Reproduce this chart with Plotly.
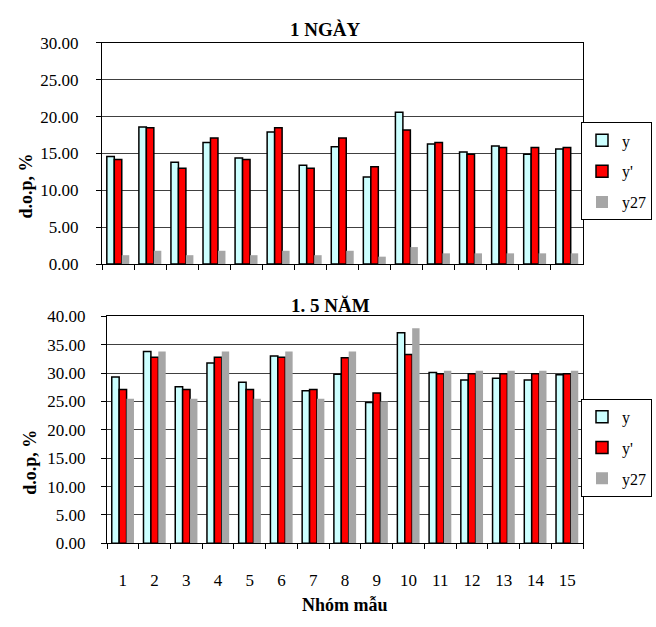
import plotly.graph_objects as go

categories = [str(i) for i in range(1, 16)]
series_names = ["y", "y'", "y27"]

# 1 NGÀY
day_y = [14.6, 18.6, 13.8, 16.5, 14.4, 17.9, 13.4, 15.9, 11.8, 20.6, 16.3, 15.2, 16.0, 14.9, 15.6]
day_yp = [14.2, 18.5, 13.0, 17.1, 14.2, 18.5, 13.0, 17.1, 13.2, 18.2, 16.5, 14.9, 15.8, 15.8, 15.8]
day_y27 = [1.2, 1.8, 1.2, 1.8, 1.2, 1.8, 1.2, 1.8, 1.0, 2.3, 1.45, 1.45, 1.45, 1.45, 1.45]

# 1.5 NĂM
year_y = [29.3, 33.8, 27.6, 31.8, 28.4, 33.0, 26.9, 29.8, 24.8, 37.1, 30.1, 28.8, 29.1, 28.8, 29.7]
year_yp = [27.1, 32.8, 27.1, 32.8, 27.1, 32.8, 27.1, 32.7, 26.5, 33.3, 29.9, 29.9, 29.9, 29.9, 29.9]
year_y27 = [25.5, 33.8, 25.5, 33.8, 25.5, 33.8, 25.5, 33.8, 25.0, 37.9, 30.4, 30.4, 30.4, 30.4, 30.4]

colors = ["#CCFFFF", "#FF0000", "#A6A6A6"]
outline = [1.5, 1.5, 0]
FONT = "Liberation Serif, Times New Roman, serif"
W, H = 656, 627

fig = go.Figure()
for data, xa, ya, lg in [((day_y, day_yp, day_y27), "x", "y", "legend"),
                         ((year_y, year_yp, year_y27), "x2", "y2", "legend2")]:
    for name, vals, c, lw in zip(series_names, data, colors, outline):
        fig.add_trace(go.Bar(
            x=categories, y=vals, name=name, xaxis=xa, yaxis=ya,
            marker=dict(color=c, line=dict(color="black", width=lw)),
            legend=lg, legendgroup=lg + name, hoverinfo="x+y+name"))

def px_x(p):
    return p / W

def px_y(p):
    return 1 - p / H

axis_common = dict(showline=True, linecolor="black", linewidth=1, mirror=True)
tickfont = dict(family=FONT, size=17, color="black")

fig.update_layout(
    width=W, height=H, margin=dict(l=0, r=0, t=0, b=0),
    paper_bgcolor="white", plot_bgcolor="white",
    barmode="group", bargap=0.3, bargroupgap=0,
    font=dict(family=FONT, color="black"),
    xaxis=dict(domain=[px_x(102), px_x(583)], anchor="y", type="category",
               tickson="boundaries", ticks="outside", ticklen=5, tickcolor="black",
               showticklabels=False, showgrid=False, **axis_common),
    yaxis=dict(domain=[px_y(263), px_y(35)], anchor="x", range=[0, 30], dtick=5,
               tickformat=".2f", ticks="outside", ticklen=5, tickcolor="black",
               tickfont=tickfont, ticklabelstandoff=14,
               showgrid=True, gridcolor="#404040", gridwidth=1, zeroline=False,
               **axis_common),
    xaxis2=dict(domain=[px_x(107), px_x(583)], anchor="y2", type="category",
                tickson="boundaries", ticks="outside", ticklen=5, tickcolor="black",
                tickfont=tickfont, ticklabelstandoff=21, showgrid=False, **axis_common),
    yaxis2=dict(domain=[px_y(551), px_y(317)], anchor="x2", range=[0, 40], dtick=5,
                tickformat=".2f", ticks="outside", ticklen=5, tickcolor="black",
                tickfont=tickfont, ticklabelstandoff=12,
                showgrid=True, gridcolor="#404040", gridwidth=1, zeroline=False,
                **axis_common),
    legend=dict(x=px_x(652), y=px_y(117), xanchor="right", yanchor="top",
                bordercolor="black", borderwidth=1, bgcolor="white",
                font=dict(family=FONT, size=16, color="black"),
                traceorder="grouped", tracegroupgap=7, itemwidth=30),
    legend2=dict(x=px_x(652), y=px_y(402), xanchor="right", yanchor="top",
                 bordercolor="black", borderwidth=1, bgcolor="white",
                 font=dict(family=FONT, size=16, color="black"),
                 traceorder="grouped", tracegroupgap=7, itemwidth=30),
)

bold = dict(family=FONT, size=19, color="black")
annots = [
    dict(text="<b>1 NGÀY</b>", x=px_x(325), y=px_y(21), font=bold),
    dict(text="<b>1. 5 NĂM</b>", x=px_x(331), y=px_y(306), font=bold),
    dict(text="<b>Nhóm mẫu</b>", x=px_x(345), y=px_y(615), font=dict(family=FONT, size=18, color="black")),
    dict(text="<b>d.o.p, %</b>", x=px_x(26), y=px_y(183), textangle=-90, font=dict(family=FONT, size=18, color="black")),
    dict(text="<b>d.o.p, %</b>", x=px_x(30), y=px_y(468), textangle=-90, font=dict(family=FONT, size=18, color="black")),
]
for a in annots:
    fig.add_annotation(xref="paper", yref="paper", showarrow=False,
                       xanchor="center", yanchor="middle", **a)

fig.write_html("out.html")
